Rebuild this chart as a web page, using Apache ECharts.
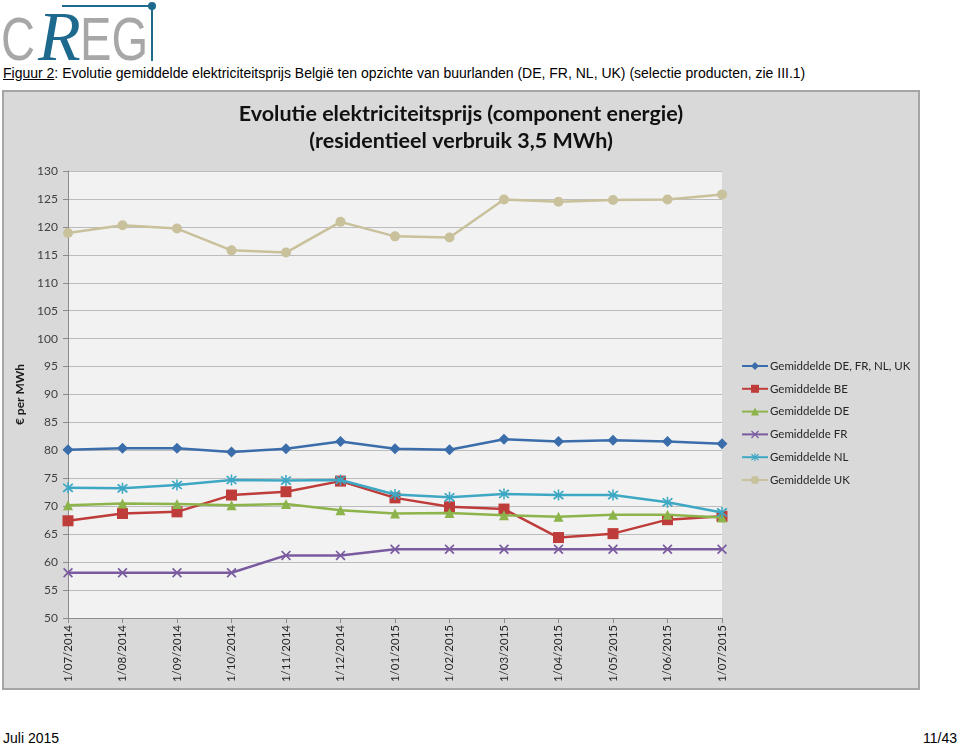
<!DOCTYPE html>
<html>
<head>
<meta charset="utf-8">
<script src="https://cdn.jsdelivr.net/npm/echarts@6/dist/echarts.min.js"></script>
<style>
  html, body { margin:0; padding:0; background:#fff; }
  body { width:960px; height:745px; position:relative; overflow:hidden; }
  .logo { position:absolute; font-family:'Liberation Sans',sans-serif; color:#a7a7a7; font-size:62px; line-height:1; transform-origin:0 0; transform:scaleX(0.76); }
  #caption { position:absolute; left:3px; top:65px; font-family:'Liberation Sans',Arial,sans-serif; font-size:14px; color:#000; white-space:nowrap; }
  #caption u { text-decoration:underline; }
  .foot { position:absolute; top:730px; font-family:'Liberation Sans',sans-serif; font-size:14px; color:#000; }
  #frame { position:absolute; left:2px; top:90px; width:914px; height:596px; border:2px solid #a5a5a5; background:#d9d9d9; }
  #chart { width:914px; height:596px; }
</style>
</head>
<body>
<div class="logo" style="left:1px;top:8px;">C</div>
<div class="logo" style="left:38px;top:2px;font-size:70px;color:#1d6a8e;font-style:italic;font-family:'Liberation Serif',serif;transform:none;">R</div>
<div class="logo" style="left:80px;top:8px;">EG</div>
<div style="position:absolute;left:62px;top:5px;width:90px;height:2px;background:#1d6a8e;"></div>
<div style="position:absolute;left:151px;top:5px;width:2px;height:56px;background:#1d6a8e;"></div>
<div style="position:absolute;left:148px;top:2px;width:8px;height:8px;border-radius:4px;background:#1d6a8e;"></div>
<div id="caption"><u>Figuur 2</u>: Evolutie gemiddelde elektriciteitsprijs België ten opzichte van buurlanden (DE, FR, NL, UK) (selectie producten, zie III.1)</div>
<div id="frame"><div id="chart"></div></div>
<div class="foot" style="left:3px;">Juli 2015</div>
<div class="foot" style="right:3px;">11/43</div>
<script>
const categories = ['1/07/2014','1/08/2014','1/09/2014','1/10/2014','1/11/2014','1/12/2014','1/01/2015','1/02/2015','1/03/2015','1/04/2015','1/05/2015','1/06/2015','1/07/2015'];
const seriesNames = ['Gemiddelde DE, FR, NL, UK','Gemiddelde BE','Gemiddelde DE','Gemiddelde FR','Gemiddelde NL','Gemiddelde UK'];
const avgValues = [80.1,80.4,80.4,79.7,80.3,81.6,80.3,80.1,82.0,81.6,81.8,81.6,81.2];
const beValues  = [67.4,68.7,69.0,72.0,72.6,74.5,71.5,69.9,69.5,64.4,65.1,67.6,68.2];
const deValues  = [70.2,70.5,70.4,70.2,70.4,69.3,68.7,68.8,68.4,68.1,68.5,68.5,68.0];
const frValues  = [58.1,58.1,58.1,58.1,61.2,61.2,62.3,62.3,62.3,62.3,62.3,62.3,62.3];
const nlValues  = [73.3,73.2,73.8,74.7,74.6,74.7,72.1,71.6,72.2,72.0,72.0,70.7,68.9];
const ukValues  = [118.9,120.3,119.7,115.8,115.4,120.9,118.3,118.1,124.9,124.5,124.8,124.9,125.8];
const yTicks = { min:50, max:130, interval:5 };

const colors = ['#3b6dab','#be3d3a','#8db34b','#7a5b9f','#3ea8c4','#c8c19b'];
const xPath = 'path://M0,1.2 L1.2,0 L5,3.8 L8.8,0 L10,1.2 L6.2,5 L10,8.8 L8.8,10 L5,6.2 L1.2,10 L0,8.8 L3.8,5 Z';
const starPath = 'path://M0,1.2 L1.2,0 L5,3.8 L8.8,0 L10,1.2 L6.2,5 L10,8.8 L8.8,10 L5,6.2 L1.2,10 L0,8.8 L3.8,5 Z M4.3,-1 L5.7,-1 L5.7,11 L4.3,11 Z';
const symbols = [['diamond',11],['rect',11],['triangle',10],[xPath,10],[starPath,11],['circle',10]];
const allValues = [avgValues,beValues,deValues,frValues,nlValues,ukValues];

const chart = echarts.init(document.getElementById('chart'), null, {renderer:'canvas'});
const font = "Lato, 'Open Sans', sans-serif";
chart.setOption({
  animation:false,
  backgroundColor:'#d9d9d9',
  color: colors,
  title:{
    text:'Evolutie elektriciteitsprijs (component energie)\n(residentieel verbruik 3,5 MWh)',
    left:'center', top:4,
    textStyle:{ fontFamily:font, fontWeight:'bold', fontSize:21.5, lineHeight:27, color:'#111' }
  },
  legend:{
    orient:'vertical', left:737, top:268, padding:0,
    itemWidth:26, itemHeight:10, itemGap:10.8,
    data: seriesNames,
    textStyle:{ fontFamily:font, fontSize:11.5, color:'#262626', padding:[0,0,0,-3] }
  },
  grid:{ left:64, top:79, width:654, height:447, show:true, backgroundColor:'#f2f2f2', borderWidth:0 },
  xAxis:{
    type:'category', data:categories, boundaryGap:false,
    axisLine:{ lineStyle:{ color:'#8c8c8c', width:1 } },
    axisTick:{ show:true, alignWithLabel:true, length:5, lineStyle:{ color:'#8c8c8c' } },
    axisLabel:{ rotate:90, margin:7, fontFamily:font, fontSize:11.5, color:'#262626', interval:0 },
    splitLine:{ show:false }
  },
  yAxis:{
    type:'value', min:yTicks.min, max:yTicks.max, interval:yTicks.interval,
    name:'€ per MWh', nameLocation:'middle', nameRotate:90, nameGap:31,
    nameTextStyle:{ fontFamily:font, fontWeight:'bold', fontSize:12, color:'#1a1a1a' },
    axisLine:{ show:true, lineStyle:{ color:'#8c8c8c' } },
    axisTick:{ show:true, length:5, lineStyle:{ color:'#8c8c8c' } },
    axisLabel:{ margin:10, fontFamily:font, fontSize:12, color:'#404040' },
    splitLine:{ lineStyle:{ color:'#bcbcbc', width:1 } }
  },
  series: seriesNames.map((n,i)=>({
    name:n, type:'line', data:allValues[i],
    symbol:symbols[i][0], symbolSize:symbols[i][1], showSymbol:true,
    lineStyle:{ width:2.5, color:colors[i] },
    itemStyle:{ color:colors[i] },
    z: 2+i
  }))
});
</script>
</body>
</html>
